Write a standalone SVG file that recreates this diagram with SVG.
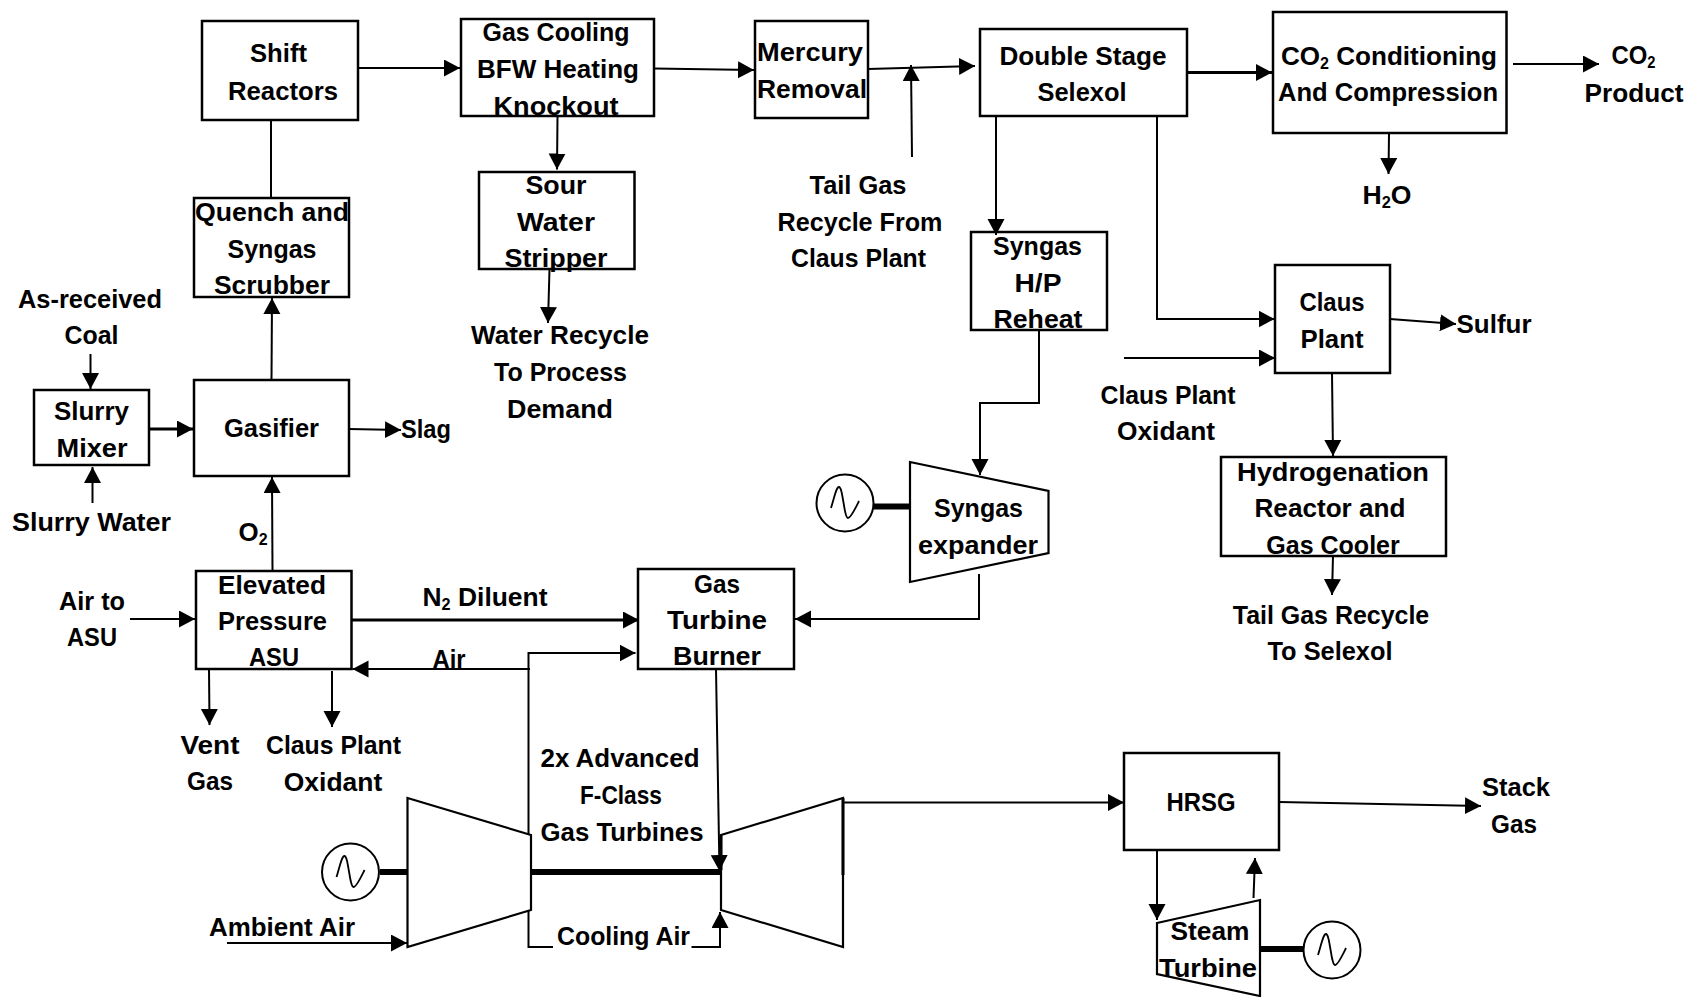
<svg xmlns="http://www.w3.org/2000/svg" width="1688" height="997" viewBox="0 0 1688 997">
<style>
text{font-family:"Liberation Sans",Arial,sans-serif;font-weight:700;font-size:26px;fill:#000;text-anchor:middle}
.s{font-size:16px}
.b{fill:#fff;stroke:#000;stroke-width:2.5}
.t{fill:#fff;stroke:#000;stroke-width:2.200}
.g{fill:#fff;stroke:#000;stroke-width:2}
.w{fill:none;stroke:#000;stroke-width:1.800}
.sh{fill:none;stroke:#000;stroke-width:6}
.c{fill:none;stroke:#000;stroke-width:2}
.a{marker-end:url(#ah)}
.h{stroke-width:3}
</style>
<defs>
<marker id="ah" markerUnits="userSpaceOnUse" markerWidth="17" markerHeight="18" refX="16" refY="8.5" orient="auto"><path d="M0,0L16,8.5L0,17Z" fill="#000"/></marker>
<path id="sine" class="w" d="M-14,5C-11,-4 -9,-16 -6,-16C-2,-16 -1,15 3,15C6,15 11,4 14,-2"/>
</defs>
<rect width="1688" height="997" fill="#fff"/>
<g id="shift-reactors"><rect class="b" x="202" y="21" width="156" height="99"/>
<text x="278.500" y="62" textLength="57" lengthAdjust="spacingAndGlyphs">Shift</text><text x="283" y="100" textLength="110" lengthAdjust="spacingAndGlyphs">Reactors</text></g>
<g id="gas-cooling"><rect class="b" x="461" y="19" width="193" height="97"/>
<text x="556" y="41" textLength="147" lengthAdjust="spacingAndGlyphs">Gas Cooling</text><text x="558" y="78" textLength="162" lengthAdjust="spacingAndGlyphs">BFW Heating</text><text x="556" y="115" textLength="125" lengthAdjust="spacingAndGlyphs">Knockout</text></g>
<g id="mercury-removal"><rect class="b" x="755" y="21" width="113" height="97"/>
<text x="810" y="61" textLength="106" lengthAdjust="spacingAndGlyphs">Mercury</text><text x="812" y="98" textLength="110" lengthAdjust="spacingAndGlyphs">Removal</text></g>
<g id="double-stage-selexol"><rect class="b" x="980" y="29" width="207" height="87"/>
<text x="1083" y="65" textLength="167" lengthAdjust="spacingAndGlyphs">Double Stage</text><text x="1082" y="101" textLength="89" lengthAdjust="spacingAndGlyphs">Selexol</text></g>
<g id="co2-conditioning"><rect class="b" x="1273" y="12" width="233.500" height="121"/>
<text x="1389" y="65" textLength="216" lengthAdjust="spacingAndGlyphs">CO<tspan class="s" dy="4">2</tspan><tspan dy="-4"> Conditioning</tspan></text><text x="1388" y="101" textLength="220" lengthAdjust="spacingAndGlyphs">And Compression</text></g>
<g id="quench-scrubber"><rect class="b" x="194" y="198" width="155" height="99"/>
<text x="272" y="221" textLength="154" lengthAdjust="spacingAndGlyphs">Quench and</text><text x="272" y="258" textLength="89" lengthAdjust="spacingAndGlyphs">Syngas</text><text x="272" y="294" textLength="116" lengthAdjust="spacingAndGlyphs">Scrubber</text></g>
<g id="sour-water-stripper"><rect class="b" x="479" y="172" width="155.500" height="97"/>
<text x="556" y="194" textLength="61" lengthAdjust="spacingAndGlyphs">Sour</text><text x="556" y="231" textLength="78" lengthAdjust="spacingAndGlyphs">Water</text><text x="556" y="267" textLength="103" lengthAdjust="spacingAndGlyphs">Stripper</text></g>
<g id="syngas-reheat"><rect class="b" x="971" y="232" width="136" height="98"/>
<text x="1037.500" y="255" textLength="89" lengthAdjust="spacingAndGlyphs">Syngas</text><text x="1038" y="292" textLength="47" lengthAdjust="spacingAndGlyphs">H/P</text><text x="1038" y="328" textLength="89" lengthAdjust="spacingAndGlyphs">Reheat</text></g>
<g id="claus-plant"><rect class="b" x="1275" y="265" width="115" height="108"/>
<text x="1332" y="311" textLength="65" lengthAdjust="spacingAndGlyphs">Claus</text><text x="1332" y="348" textLength="63" lengthAdjust="spacingAndGlyphs">Plant</text></g>
<g id="hydrogenation"><rect class="b" x="1221" y="457" width="225" height="99"/>
<text x="1333" y="481" textLength="192" lengthAdjust="spacingAndGlyphs">Hydrogenation</text><text x="1330" y="517" textLength="151" lengthAdjust="spacingAndGlyphs">Reactor and</text><text x="1333" y="554" textLength="133.500" lengthAdjust="spacingAndGlyphs">Gas Cooler</text></g>
<g id="slurry-mixer"><rect class="b" x="34" y="390" width="115" height="75"/>
<text x="91.500" y="420" textLength="75" lengthAdjust="spacingAndGlyphs">Slurry</text><text x="92" y="457" textLength="71" lengthAdjust="spacingAndGlyphs">Mixer</text></g>
<g id="gasifier"><rect class="b" x="194" y="380" width="155" height="96"/>
<text x="271.500" y="437" textLength="95" lengthAdjust="spacingAndGlyphs">Gasifier</text></g>
<g id="asu"><rect class="b" x="196" y="571" width="155.500" height="98"/>
<text x="272" y="594" textLength="108" lengthAdjust="spacingAndGlyphs">Elevated</text><text x="272.500" y="630" textLength="109" lengthAdjust="spacingAndGlyphs">Pressure</text><text x="274" y="666" textLength="50" lengthAdjust="spacingAndGlyphs">ASU</text></g>
<g id="gas-turbine-burner"><rect class="b" x="638" y="569" width="156" height="100"/>
<text x="717" y="593" textLength="46" lengthAdjust="spacingAndGlyphs">Gas</text><text x="717" y="629" textLength="100" lengthAdjust="spacingAndGlyphs">Turbine</text><text x="717" y="665" textLength="88" lengthAdjust="spacingAndGlyphs">Burner</text></g>
<g id="hrsg"><rect class="b" x="1124" y="753" width="155" height="97"/>
<text x="1201" y="811" textLength="69" lengthAdjust="spacingAndGlyphs">HRSG</text></g>
<g id="syngas-expander"><path class="t" d="M910,462L1048.500,491V553L910,582Z"/>
<text x="978.500" y="517" textLength="89" lengthAdjust="spacingAndGlyphs">Syngas</text><text x="978" y="554" textLength="120" lengthAdjust="spacingAndGlyphs">expander</text></g>
<g id="syngas-generator"><path class="sh" d="M873,506.500H910"/><circle class="g" cx="845" cy="503" r="28.500"/><use href="#sine" x="845" y="503"/></g>
<g id="compressor"><path class="t" d="M407.500,798L531,835V910L407.500,947Z"/></g>
<g id="turbine"><path class="t" d="M721,835L843,798V947L721,910Z"/><path class="c h" d="M843,798V875M721,835V870"/></g>
<g id="gt-generator"><path class="sh" d="M380,872H408"/><circle class="g" cx="350.500" cy="872" r="28.500"/><use href="#sine" x="350.500" y="872"/></g>
<path id="gt-shaft" class="sh" d="M531,872H721"/>
<g id="steam-turbine"><path class="t" d="M1157,923L1260,900V996L1157,974Z"/>
<text x="1210" y="940" textLength="79" lengthAdjust="spacingAndGlyphs">Steam</text><text x="1208" y="977" textLength="98" lengthAdjust="spacingAndGlyphs">Turbine</text></g>
<g id="steam-generator"><path class="sh" d="M1260,949H1304"/><circle class="g" cx="1332" cy="950" r="28.500"/><use href="#sine" x="1332" y="950"/></g>
<g id="connectors">
<path class="c a" d="M358,68H460"/>
<path class="c a" d="M654,68.500L754,70"/>
<path class="c a" d="M868,69L975,66"/>
<path class="c a" d="M912,157L911,65"/>
<path class="c a h" d="M1187,72.500H1272"/>
<path class="c a" d="M1513,64H1599"/>
<path class="c a" d="M1389,134L1388.500,174"/>
<path class="c a" d="M996,116V235"/>
<path class="c a" d="M1157,116V319H1274.500"/>
<path class="c a" d="M1124,358H1275"/>
<path class="c a" d="M1390,319L1456,324"/>
<path class="c a" d="M1332,373L1333,456"/>
<path class="c a" d="M1333,556L1332,595"/>
<path class="c a" d="M1039,330V403H980V475"/>
<path class="c a" d="M979,574V619H795"/>
<path class="c" d="M271,120V197"/>
<path class="c a" d="M271.500,380L272,298"/>
<path class="c a" d="M272.500,570L272,477"/>
<path class="c a h" d="M149,429H193"/>
<path class="c a" d="M349,429L401,430"/>
<path class="c a" d="M90.500,354V389"/>
<path class="c a" d="M92.500,503V467"/>
<path class="c a" d="M557.500,116L557,169.500"/>
<path class="c a" d="M549.500,269L548,323"/>
<path class="c a" d="M130,619H195"/>
<path class="c a h" d="M351.500,620H639"/>
<path class="c a" d="M530,669H352.500"/>
<path class="c a" d="M528.500,835V653H635.500"/>
<path class="c a" d="M716,669L719.500,871"/>
<path class="c" d="M528.500,910V947H553"/>
<path class="c a" d="M691.500,947H720V912"/>
<path class="c a" d="M227,943H407"/>
<path class="c a" d="M209,669L209.500,725"/>
<path class="c a" d="M332,671V727"/>
<path class="c a" d="M844,802.500H1124"/>
<path class="c a" d="M1279,802L1481,806"/>
<path class="c a" d="M1157,850V920"/>
<path class="c a" d="M1253.500,898L1255,858"/>
</g>
<g id="labels">
<text x="90" y="308" textLength="144" lengthAdjust="spacingAndGlyphs">As-received</text><text x="91.500" y="344" textLength="54" lengthAdjust="spacingAndGlyphs">Coal</text>
<text x="426" y="438" textLength="50" lengthAdjust="spacingAndGlyphs">Slag</text>
<text x="560" y="344" textLength="178" lengthAdjust="spacingAndGlyphs">Water Recycle</text><text x="560.500" y="381" textLength="133" lengthAdjust="spacingAndGlyphs">To Process</text><text x="560" y="418" textLength="106" lengthAdjust="spacingAndGlyphs">Demand</text>
<text x="858" y="194" textLength="97" lengthAdjust="spacingAndGlyphs">Tail Gas</text><text x="860" y="231" textLength="165" lengthAdjust="spacingAndGlyphs">Recycle From</text><text x="858.500" y="267" textLength="135" lengthAdjust="spacingAndGlyphs">Claus Plant</text>
<text x="1633.500" y="64" textLength="44" lengthAdjust="spacingAndGlyphs">CO<tspan class="s" dy="4">2</tspan></text><text x="1634" y="102" textLength="99" lengthAdjust="spacingAndGlyphs">Product</text>
<text x="1387" y="204" textLength="49" lengthAdjust="spacingAndGlyphs">H<tspan class="s" dy="4">2</tspan><tspan dy="-4">O</tspan></text>
<text x="1494" y="333" textLength="75" lengthAdjust="spacingAndGlyphs">Sulfur</text>
<text x="1168" y="404" textLength="135" lengthAdjust="spacingAndGlyphs">Claus Plant</text><text x="1166" y="440" textLength="98" lengthAdjust="spacingAndGlyphs">Oxidant</text>
<text x="1331" y="624" textLength="196.500" lengthAdjust="spacingAndGlyphs">Tail Gas Recycle</text><text x="1330" y="660" textLength="125" lengthAdjust="spacingAndGlyphs">To Selexol</text>
<text x="1516" y="796" textLength="68" lengthAdjust="spacingAndGlyphs">Stack</text><text x="1514" y="833" textLength="46" lengthAdjust="spacingAndGlyphs">Gas</text>
<text x="91.500" y="531" textLength="159" lengthAdjust="spacingAndGlyphs">Slurry Water</text>
<text x="253" y="541" textLength="29" lengthAdjust="spacingAndGlyphs">O<tspan class="s" dy="4">2</tspan></text>
<text x="92" y="610" textLength="66" lengthAdjust="spacingAndGlyphs">Air to</text><text x="92" y="646" textLength="50" lengthAdjust="spacingAndGlyphs">ASU</text>
<text x="485" y="606" textLength="125" lengthAdjust="spacingAndGlyphs">N<tspan class="s" dy="4">2</tspan><tspan dy="-4"> Diluent</tspan></text>
<text x="449" y="668" textLength="33" lengthAdjust="spacingAndGlyphs">Air</text>
<text x="210" y="754" textLength="59" lengthAdjust="spacingAndGlyphs">Vent</text><text x="210" y="790" textLength="46" lengthAdjust="spacingAndGlyphs">Gas</text>
<text x="333.500" y="754" textLength="135" lengthAdjust="spacingAndGlyphs">Claus Plant</text><text x="333" y="791" textLength="98.500" lengthAdjust="spacingAndGlyphs">Oxidant</text>
<text x="620" y="767" textLength="159" lengthAdjust="spacingAndGlyphs">2x Advanced</text><text x="621" y="804" textLength="82" lengthAdjust="spacingAndGlyphs">F-Class</text><text x="622" y="841" textLength="163" lengthAdjust="spacingAndGlyphs">Gas Turbines</text>
<text x="282" y="936" textLength="146" lengthAdjust="spacingAndGlyphs">Ambient Air</text>
<text x="623.500" y="945" textLength="133" lengthAdjust="spacingAndGlyphs">Cooling Air</text>
</g>
</svg>
